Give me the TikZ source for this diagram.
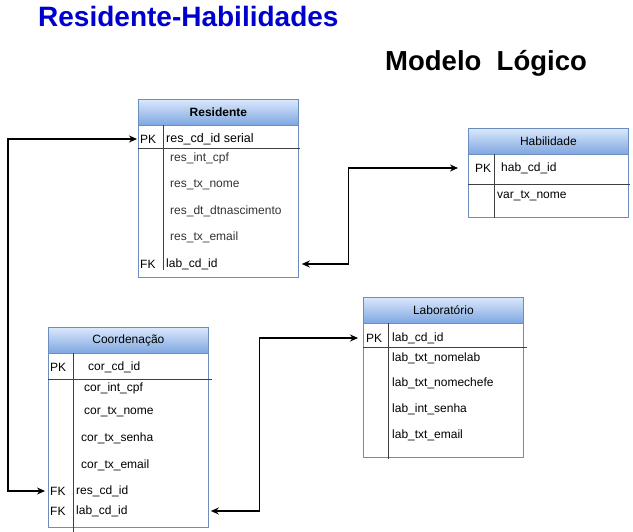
\documentclass[tikz,border=0pt]{standalone}
\usepackage{fontspec}
\setmainfont{Liberation Sans}
\usetikzlibrary{arrows.meta,calc,positioning}
\definecolor{tblborder}{HTML}{6C8EBF}
\definecolor{hdrtop}{HTML}{DAE8FC}
\definecolor{hdrbot}{HTML}{7EA6E0}
\definecolor{titleblue}{HTML}{0000CC}
\tikzset{%
  >={Stealth[length=8pt,width=7pt]},
  % Specifications for style of nodes:
        tablebox/.style = {rectangle, draw=tblborder, line width=0.8pt, fill=white,
                           anchor=north west, minimum width=160pt, inner sep=0pt},
          header/.style = {rectangle, draw=tblborder, line width=0.8pt,
                           top color=hdrtop, bottom color=hdrbot,
                           anchor=north west, minimum width=160pt, minimum height=26pt,
                           inner sep=0pt, font=\fontsize{12}{14}\selectfont},
             key/.style = {anchor=west, inner xsep=2pt, inner ysep=0pt,
                           font=\fontsize{12}{14}\selectfont},
         pkfield/.style = {anchor=west, inner sep=0pt, font=\fontsize{12}{14}\selectfont},
           field/.style = {pkfield, text=black!80},
             sep/.style = {draw=black!75, line width=1pt},
            link/.style = {<->, draw=black, line width=1.2pt},
}

\begin{document}
\begin{tikzpicture}[x=1pt, y=-1pt]
  \useasboundingbox (0,0) rectangle (633,532);

  % titles
  \node (title) [anchor=base west, inner sep=0pt, text=titleblue,
      font=\fontsize{28}{32}\selectfont\bfseries] at (38,27) {Residente-Habilidades};
  \node (subtitle) [anchor=base west, inner sep=0pt,
      font=\fontsize{27.5}{31}\selectfont\bfseries] at (385,71) {Modelo\ \ Lógico};

  % Residente
  \node (res)      [tablebox, minimum height=178pt] at (138,99) {};
  \node (res-head) [header, font=\fontsize{12}{14}\selectfont\bfseries] at (res.north west) {Residente};
  \draw[sep] (138,149) -- (300,149);
  \draw[sep] (163,125) -- (163,270);
  \node (res-pk)   [key] at (138,139) {PK};
  \node (res-pkn)  [pkfield, font=\fontsize{12.5}{14}\selectfont] at (166,139) {res\_cd\_id serial};
  \foreach \y/\txt in {158/res\_int\_cpf, 185/res\_tx\_nome,
                       211/res\_dt\_dtnascimento, 237/res\_tx\_email}
    \node (res-\y) [field] at (170,\y) {\txt};
  \node (res-fk)   [key] at (138,264) {FK};
  \node (res-fkn)  [pkfield] at (166,264) {lab\_cd\_id};

  % Habilidade
  \node (hab)      [tablebox, minimum height=89pt] at (468,128) {};
  \node (hab-head) [header] at (hab.north west) {Habilidade};
  \draw[sep] (468,185) -- (630,185);
  \draw[sep] (494,154) -- (494,218);
  \node (hab-pk)   [key, inner xsep=7pt] at (468,168) {PK};
  \node (hab-pkn)  [pkfield] at (501,168) {hab\_cd\_id};
  \node (hab-f1)   [pkfield] at (497,196) {var\_tx\_nome};

  % Laboratorio
  \node (lab)      [tablebox, minimum height=160pt] at (363,297) {};
  \node (lab-head) [header] at (lab.north west) {Laboratório};
  \draw[sep] (363,348) -- (527,348);
  \draw[sep] (388,323) -- (388,459);
  \node (lab-pk)   [key, inner xsep=3pt] at (363,338) {PK};
  \node (lab-pkn)  [pkfield] at (392,338) {lab\_cd\_id};
  \foreach \y/\txt in {358/lab\_txt\_nomelab, 383/lab\_txt\_nomechefe,
                       409/lab\_int\_senha, 435/lab\_txt\_email}
    \node (lab-\y) [pkfield] at (392,\y) {\txt};

  % Coordenacao
  \node (cor)      [tablebox, minimum height=200pt] at (48,327) {};
  \node (cor-head) [header] at (cor.north west) {Coordenação};
  \draw[sep] (48,380) -- (212,380);
  \draw[sep] (73,353) -- (73,532);
  \node (cor-pk)   [key] at (48,367) {PK};
  \node (cor-pkn)  [pkfield] at (88,367) {cor\_cd\_id};
  \foreach \x/\y/\txt in {84/388/cor\_int\_cpf, 84/412/cor\_tx\_nome,
                          81/438/cor\_tx\_senha, 81/465/cor\_tx\_email}
    \node (cor-\y) [pkfield] at (\x,\y) {\txt};
  \node (cor-fk1)  [key] at (48,491) {FK};
  \node (cor-fk1n) [pkfield] at (76,491) {res\_cd\_id};
  \node (cor-fk2)  [key] at (48,511) {FK};
  \node (cor-fk2n) [pkfield] at (76,511) {lab\_cd\_id};

  % connectors
  \draw[link, shorten <=3pt, shorten >=1pt] (cor-fk1.west)
      -- ++(-40,0) |- (res-pk.west);
  \draw[link, shorten <=3pt, shorten >=10pt] (res.east |- res-fk)
      -- ++(50,0) |- (hab-pk.west);
  \draw[link, shorten <=2pt, shorten >=5pt] (cor.east |- cor-fk2)
      -- ++(51,0) |- (lab-pk.west);

\end{tikzpicture}
\end{document}
